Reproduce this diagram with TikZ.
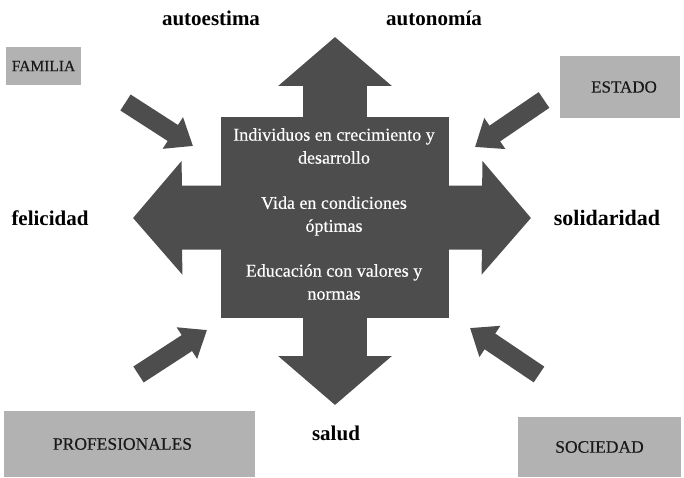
\documentclass[tikz,border=0pt]{standalone}
\usepackage{fontspec}
\setmainfont{Liberation Serif}
\newfontfamily\heavyserif{Liberation Serif}[FakeBold=0.35]
\usetikzlibrary{arrows.meta}
\definecolor{hubgray}{HTML}{4D4D4D}
\definecolor{boxgray}{HTML}{B2B2B2}

\begin{document}
\begin{tikzpicture}[x=1pt,y=-1pt,
  hub/.style={fill=hubgray, draw=none, minimum width=228pt, minimum height=201pt, inner sep=0pt},
  bigarrow/.style={draw=hubgray, line width=64pt, -{Triangle[length=49pt,width=111pt]}},
  smallarrow/.style={draw=hubgray, line width=19pt, -{Triangle[length=24pt,width=36pt]}},
  actor/.style={fill=boxgray, draw=none, inner sep=0pt, text=black!90},
  value/.style={font=\fontsize{21}{24}\selectfont\bfseries},
  hubtext/.style={text=white, align=center, font=\heavyserif\fontsize{18}{23}\selectfont}
]
\useasboundingbox (0,0) rectangle (684,478);

% central block
\node[hub] (hub) at (335,217.5) {};

% arrow tips of the four big arrows
\coordinate (upTip)    at (335,37);
\coordinate (downTip)  at (335,405);
\coordinate (leftTip)  at (133,218);
\coordinate (rightTip) at (531,218);

\draw[bigarrow] ([yshift=-2pt]hub.north) -- (upTip);
\draw[bigarrow] ([yshift=2pt]hub.south) -- (downTip);
\draw[bigarrow] ([xshift=2pt]hub.west) -- (leftTip);
\draw[bigarrow] ([xshift=-2pt]hub.east) -- (rightTip);

% texts inside the block
\node[hubtext] (t1) at (334,146) {Individuos en crecimiento y\\desarrollo};
\node[hubtext] (t2) at (334,216) {Vida en condiciones\\óptimas};
\node[hubtext] (t3) at (334,282) {Educación con valores y\\normas};

% values around the block
\node[value] (autoestima)  at (211,18)  {autoestima};
\node[value] (autonomia)   at (434,18)  {autonomía};
\node[value] (felicidad)   at (50,218)  {felicidad};
\node[value, font=\fontsize{22}{24}\selectfont\bfseries] (solidaridad) at (607,218) {solidaridad};
\node[value] (salud)       at (336,433) {salud};

% actors in the corners
\node[actor, minimum width=75pt, minimum height=38pt, font=\heavyserif\fontsize{15.5}{17}\selectfont] (familia) at (43.5,66) {FAMILIA};
\node[actor, minimum width=120pt, minimum height=62pt, font=\heavyserif\fontsize{17}{19}\selectfont] (estado) at (620,87) {\hspace*{8pt}ESTADO};
\node[actor, minimum width=251pt, minimum height=66pt, font=\heavyserif\fontsize{17.5}{19}\selectfont] (profesionales) at (129.5,444) {PROFESIONALES\hspace*{14pt}};
\node[actor, minimum width=163pt, minimum height=60pt, font=\heavyserif\fontsize{17.5}{19}\selectfont] (sociedad) at (599.5,447) {SOCIEDAD};

% influence arrows pointing at the block
\coordinate (famTail) at (125.5,102.5);
\coordinate (famTip)  at (193,146);
\coordinate (estTail) at (544,100);
\coordinate (estTip)  at (475,147);
\coordinate (proTail) at (138.5,374.5);
\coordinate (proTip)  at (207,330);
\coordinate (socTail) at (539,374.5);
\coordinate (socTip)  at (470,328);

\draw[smallarrow] (famTail) -- (famTip);
\draw[smallarrow] (estTail) -- (estTip);
\draw[smallarrow] (proTail) -- (proTip);
\draw[smallarrow] (socTail) -- (socTip);
\end{tikzpicture}
\end{document}
